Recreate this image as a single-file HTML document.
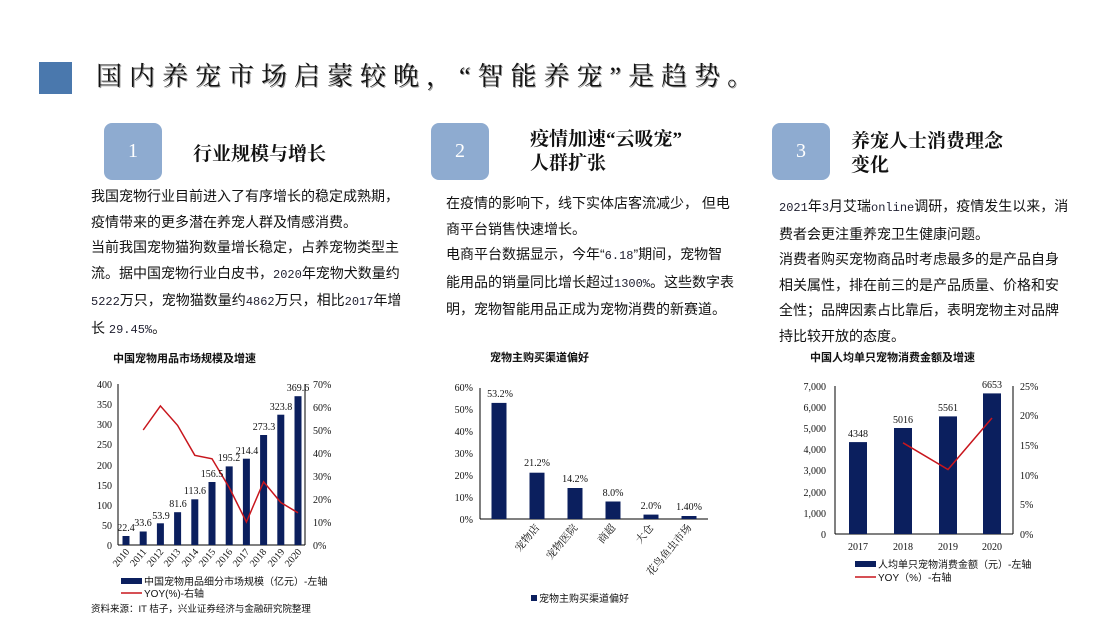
<!DOCTYPE html>
<html><head><meta charset="utf-8"><style>
body{margin:0;width:1113px;height:626px;background:#fff;position:relative;overflow:hidden;font-family:"Liberation Serif","Noto Serif CJK SC",serif;color:#111}
.a{position:absolute;white-space:nowrap}
.box{position:absolute;width:58px;height:57px;background:#8eabd0;border-radius:8px;color:#fff;font-size:20px;text-align:center;line-height:57px}
.h{position:absolute;font-size:19px;font-weight:bold;line-height:24px;white-space:nowrap}
.t{position:absolute;font-family:"Liberation Sans","Noto Sans CJK SC",sans-serif;font-size:14px;line-height:25.5px;white-space:nowrap}
.m{font-family:"Liberation Mono",monospace;font-size:12px;color:#223}
svg text{font-family:"Liberation Serif","Noto Serif CJK SC",serif}
svg text.s{font-family:"Liberation Sans","Noto Sans CJK SC",sans-serif}
</style></head><body>
<div class="a" style="left:39px;top:62px;width:33px;height:32px;background:#4a78ad"></div>
<div class="a" style="left:96px;top:60px;font-size:26px;letter-spacing:7px;line-height:34px;text-shadow:1px 1px 0 #999">国内养宠市场启蒙较晚，“智能养宠”是趋势。</div>

<div class="box" style="left:104px;top:123px">1</div>
<div class="h" style="left:193px;top:143px">行业规模与增长</div>
<div class="t" style="left:91px;top:184px">我国宠物行业目前进入了有序增长的稳定成熟期，<br>疫情带来的更多潜在养宠人群及情感消费。<br>当前我国宠物猫狗数量增长稳定，占养宠物类型主<br>流。据中国宠物行业白皮书，<span class="m">2020</span>年宠物犬数量约<br><span class="m">5222</span>万只，宠物猫数量约<span class="m">4862</span>万只，相比<span class="m">2017</span>年增<br>长 <span class="m">29.45%</span>。</div>

<div class="box" style="left:431px;top:123px">2</div>
<div class="h" style="left:530px;top:128px">疫情加速“云吸宠”<br>人群扩张</div>
<div class="t" style="left:446px;top:191px">在疫情的影响下，线下实体店客流减少， 但电<br>商平台销售快速增长。<br>电商平台数据显示，今年“<span class="m">6.18</span>”期间，宠物智<br>能用品的销量同比增长超过<span class="m">1300%</span>。这些数字表<br>明，宠物智能用品正成为宠物消费的新赛道。</div>

<div class="box" style="left:772px;top:123px">3</div>
<div class="h" style="left:851px;top:130px">养宠人士消费理念<br>变化</div>
<div class="t" style="left:779px;top:194px"><span class="m">2021</span>年<span class="m">3</span>月艾瑞<span class="m">online</span>调研，疫情发生以来，消<br>费者会更注重养宠卫生健康问题。<br>消费者购买宠物商品时考虑最多的是产品自身<br>相关属性，排在前三的是产品质量、价格和安<br>全性；品牌因素占比靠后，表明宠物主对品牌<br>持比较开放的态度。</div>

<svg class="a" style="left:0;top:0" width="1113" height="626" viewBox="0 0 1113 626">
<g font-size="10" fill="#111">
<!-- chart1 -->
<text class="s" x="113" y="362" font-weight="bold" font-size="11">中国宠物用品市场规模及增速</text>
<line x1="118" y1="384" x2="118" y2="545" stroke="#000"/>
<line x1="118" y1="545" x2="305" y2="545" stroke="#000"/>
<line x1="305" y1="384" x2="305" y2="545" stroke="#000"/>
<g text-anchor="end">
<text x="112" y="388">400</text><text x="112" y="408">350</text><text x="112" y="428">300</text><text x="112" y="448">250</text><text x="112" y="469">200</text><text x="112" y="489">150</text><text x="112" y="509">100</text><text x="112" y="529">50</text><text x="112" y="549">0</text></g>
<g><text x="313" y="388">70%</text><text x="313" y="411">60%</text><text x="313" y="434">50%</text><text x="313" y="457">40%</text><text x="313" y="480">30%</text><text x="313" y="503">20%</text><text x="313" y="526">10%</text><text x="313" y="549">0%</text></g>
<g fill="#0b1f5e">
<rect x="122.5" y="536" width="7" height="9"/><rect x="139.7" y="531.5" width="7" height="13.5"/><rect x="156.9" y="523.3" width="7" height="21.7"/><rect x="174.1" y="512.2" width="7" height="32.8"/><rect x="191.3" y="499.3" width="7" height="45.7"/><rect x="208.5" y="482" width="7" height="63"/><rect x="225.7" y="466.4" width="7" height="78.6"/><rect x="242.9" y="458.7" width="7" height="86.3"/><rect x="260.1" y="435" width="7" height="110"/><rect x="277.3" y="414.7" width="7" height="130.3"/><rect x="294.5" y="396.2" width="7" height="148.8"/></g>
<polyline fill="none" stroke="#c8161d" stroke-width="1.5" points="143.2,430 160.4,405.9 177.6,425.4 194.8,455.3 212,458.8 229.2,487.5 246.4,522 263.6,481.8 280.8,502.5 298,512.8"/>
<g text-anchor="middle">
<text x="126" y="531">22.4</text><text x="143" y="526">33.6</text><text x="161" y="519">53.9</text><text x="178" y="507">81.6</text><text x="195" y="494">113.6</text><text x="212" y="477">156.5</text><text x="229" y="461">195.2</text><text x="247" y="454">214.4</text><text x="264" y="430">273.3</text><text x="281" y="410">323.8</text><text x="298" y="391">369.6</text></g>
<g text-anchor="end">
<text transform="translate(130,552) rotate(-50)">2010</text><text transform="translate(147,552) rotate(-50)">2011</text><text transform="translate(164,552) rotate(-50)">2012</text><text transform="translate(181,552) rotate(-50)">2013</text><text transform="translate(199,552) rotate(-50)">2014</text><text transform="translate(216,552) rotate(-50)">2015</text><text transform="translate(233,552) rotate(-50)">2016</text><text transform="translate(250,552) rotate(-50)">2017</text><text transform="translate(267,552) rotate(-50)">2018</text><text transform="translate(285,552) rotate(-50)">2019</text><text transform="translate(302,552) rotate(-50)">2020</text></g>
<rect x="121" y="578" width="21" height="6" fill="#0b1f5e"/>
<text class="s" x="144" y="585">中国宠物用品细分市场规模（亿元）-左轴</text>
<line x1="121" y1="593" x2="142" y2="593" stroke="#c8161d" stroke-width="1.5"/>
<text class="s" x="144" y="597">YOY(%)-右轴</text>
<text class="s" x="91" y="612" font-size="9.5">资料来源：IT 桔子，兴业证券经济与金融研究院整理</text>

<!-- chart2 -->
<text class="s" x="490" y="361" font-weight="bold" font-size="11">宠物主购买渠道偏好</text>
<line x1="480" y1="388" x2="480" y2="519" stroke="#000"/>
<line x1="480" y1="519" x2="708" y2="519" stroke="#000"/>
<g text-anchor="end"><text x="473" y="391">60%</text><text x="473" y="413">50%</text><text x="473" y="435">40%</text><text x="473" y="457">30%</text><text x="473" y="479">20%</text><text x="473" y="501">10%</text><text x="473" y="523">0%</text></g>
<g fill="#0b1f5e"><rect x="491.5" y="402.9" width="15" height="116.1"/><rect x="529.5" y="472.7" width="15" height="46.3"/><rect x="567.5" y="488" width="15" height="31"/><rect x="605.5" y="501.5" width="15" height="17.5"/><rect x="643.5" y="514.6" width="15" height="4.4"/><rect x="681.5" y="516" width="15" height="3"/></g>
<g text-anchor="middle"><text x="500" y="397">53.2%</text><text x="537" y="466">21.2%</text><text x="575" y="482">14.2%</text><text x="613" y="496">8.0%</text><text x="651" y="509">2.0%</text><text x="689" y="510">1.40%</text></g>
<g text-anchor="end" font-size="10.5"><text transform="translate(540,528) rotate(-50)">宠物店</text><text transform="translate(578,528) rotate(-50)">宠物医院</text><text transform="translate(616,528) rotate(-50)">商超</text><text transform="translate(654,528) rotate(-50)">大仓</text><text transform="translate(692,528) rotate(-50)">花鸟鱼虫市场</text></g>
<rect x="531" y="595" width="6" height="6" fill="#0b1f5e"/>
<text class="s" x="539" y="602">宠物主购买渠道偏好</text>

<!-- chart3 -->
<text class="s" x="810" y="361" font-weight="bold" font-size="11">中国人均单只宠物消费金额及增速</text>
<line x1="835" y1="386" x2="835" y2="534" stroke="#000"/>
<line x1="835" y1="534" x2="1013" y2="534" stroke="#000"/>
<line x1="1013" y1="386" x2="1013" y2="534" stroke="#000"/>
<g text-anchor="end"><text x="826" y="390">7,000</text><text x="826" y="411">6,000</text><text x="826" y="432">5,000</text><text x="826" y="453">4,000</text><text x="826" y="474">3,000</text><text x="826" y="496">2,000</text><text x="826" y="517">1,000</text><text x="826" y="538">0</text></g>
<g><text x="1020" y="390">25%</text><text x="1020" y="419">20%</text><text x="1020" y="449">15%</text><text x="1020" y="479">10%</text><text x="1020" y="508">5%</text><text x="1020" y="538">0%</text></g>
<g fill="#0b1f5e"><rect x="849" y="442.1" width="18" height="91.9"/><rect x="894" y="428" width="18" height="106"/><rect x="939" y="416.4" width="18" height="117.6"/><rect x="983" y="393.4" width="18" height="140.6"/></g>
<polyline fill="none" stroke="#c8161d" stroke-width="1.5" points="903,442.8 948,469.5 992,418"/>
<g text-anchor="middle"><text x="858" y="437">4348</text><text x="903" y="423">5016</text><text x="948" y="411">5561</text><text x="992" y="388">6653</text>
<text x="858" y="550">2017</text><text x="903" y="550">2018</text><text x="948" y="550">2019</text><text x="992" y="550">2020</text></g>
<rect x="855" y="561" width="21" height="6" fill="#0b1f5e"/>
<text class="s" x="878" y="568">人均单只宠物消费金额（元）-左轴</text>
<line x1="855" y1="577" x2="876" y2="577" stroke="#c8161d" stroke-width="1.5"/>
<text class="s" x="878" y="581">YOY（%）-右轴</text>
</g>
</svg>
</body></html>
